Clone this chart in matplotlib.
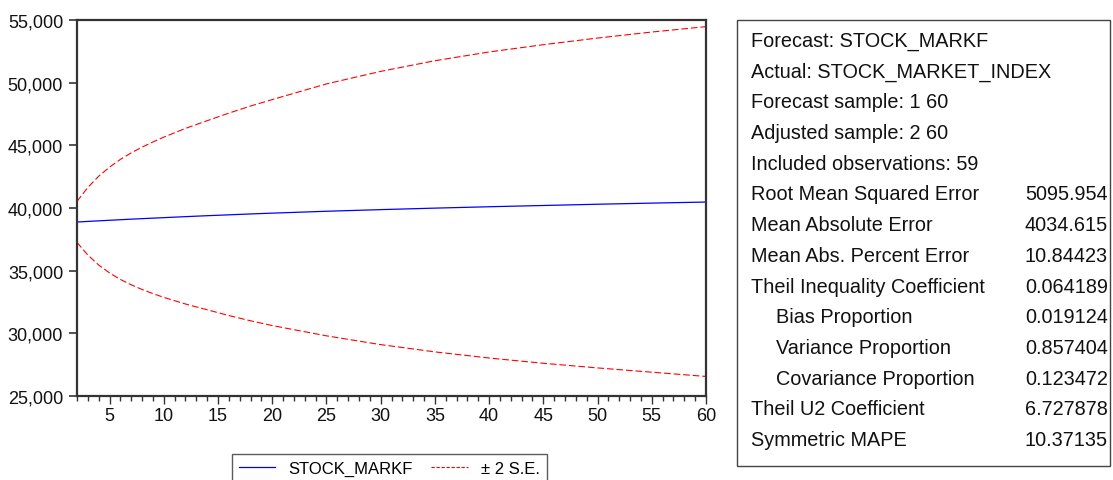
import matplotlib
matplotlib.use("Agg")
import matplotlib.pyplot as plt
from matplotlib.lines import Line2D
from matplotlib.patches import Rectangle

plt.rcParams['font.family'] = ['Liberation Sans', 'DejaVu Sans']

# ---- data ----
obs = [2, 3, 4, 5, 6, 7, 8, 9, 10, 12, 14, 16, 18, 20, 25, 30, 35, 40, 45, 50, 55, 60]
forecast = [38880, 38930, 38975, 39020, 39065, 39110, 39150, 39190, 39230, 39310,
            39385, 39455, 39525, 39590, 39740, 39870, 39990, 40100, 40200, 40300,
            40390, 40475]
upper = [40530, 41640, 42535, 43260, 43880, 44400, 44855, 45270, 45655, 46350,
         46965, 47570, 48135, 48650, 49900, 50900, 51750, 52450, 53030, 53560,
         54040, 54470]
lower = [37250, 36250, 35450, 34820, 34300, 33870, 33500, 33170, 32870, 32340,
         31880, 31420, 31000, 30620, 29800, 29100, 28520, 28030, 27610, 27240,
         26900, 26560]

y_ticks = [25000, 30000, 35000, 40000, 45000, 50000, 55000]
x_ticks = [5, 10, 15, 20, 25, 30, 35, 40, 45, 50, 55, 60]

stat_labels = ["Forecast: STOCK_MARKF", "Actual: STOCK_MARKET_INDEX",
               "Forecast sample: 1 60", "Adjusted sample: 2 60",
               "Included observations: 59", "Root Mean Squared Error",
               "Mean Absolute Error", "Mean Abs. Percent Error",
               "Theil Inequality Coefficient", "Bias Proportion",
               "Variance Proportion", "Covariance Proportion",
               "Theil U2 Coefficient", "Symmetric MAPE"]
stat_values = ["", "", "", "", "", "5095.954", "4034.615", "10.84423",
               "0.064189", "0.019124", "0.857404", "0.123472", "6.727878",
               "10.37135"]
stat_indent = [False] * 9 + [True, True, True] + [False, False]

legend_labels = ["STOCK_MARKF", "\u00b1 2 S.E."]

# ---- figure ----
W, H = 1113, 481
fig = plt.figure(figsize=(W / 100, H / 100), dpi=100)
ax = fig.add_axes([77 / W, 1 - 397 / H, 629 / W, 376 / H])

ax.plot(obs, forecast, color='#0000ff', lw=0.9)
ax.plot(obs, upper, color='#ff0000', lw=0.8, linestyle=(0, (6, 2.6)))
ax.plot(obs, lower, color='#ff0000', lw=0.8, linestyle=(0, (6, 2.6)))

ax.set_xlim(2, 60)
ax.set_ylim(25000, 55000)
ax.set_yticks(y_ticks)
ax.set_yticklabels([f"{v:,}" for v in y_ticks])
ax.set_xticks(x_ticks)
ax.set_xticks(range(2, 61), minor=True)
ax.set_xticklabels([str(v) for v in x_ticks])

for s in ax.spines.values():
    s.set_linewidth(1.6)
    s.set_color('#333333')

ax.tick_params(axis='y', which='major', direction='out', length=6, width=1.3,
               color='#444444', labelsize=13, pad=4, labelcolor='#111111')
ax.tick_params(axis='x', which='major', direction='out', length=6, width=1.0,
               color='#333333', labelsize=13, pad=2, labelcolor='#111111')
ax.tick_params(axis='x', which='minor', direction='out', length=3.5, width=1.0,
               color='#333333')

# legend
handles = [Line2D([], [], color='#0000ff', lw=0.9),
           Line2D([], [], color='#ff0000', lw=0.8, linestyle=(0, (3, 1.5)))]
leg = fig.legend(handles, legend_labels, loc='upper left',
                 bbox_to_anchor=(232 / W, 1 - 455 / H), ncol=2, frameon=True,
                 fancybox=False, fontsize=12, handlelength=2.2,
                 columnspacing=1.1, borderpad=0.4, handletextpad=0.8,
                 borderaxespad=0)
leg.get_frame().set_edgecolor('#333333')
leg.get_frame().set_linewidth(1.0)

# statistics box
fig.patches.append(Rectangle((737 / W, 1 - 467 / H), (1110 - 737) / W, (467 - 21) / H,
                             transform=fig.transFigure, fill=False,
                             edgecolor='#444444', lw=1.0))
for i, (lab, val, ind) in enumerate(zip(stat_labels, stat_values, stat_indent)):
    yc = 1 - (41.5 + 30.7 * i) / H
    xl = (776 if ind else 751) / W
    fig.text(xl, yc, lab, ha='left', va='center', fontsize=14.3, color='#111111')
    if val:
        fig.text(1108 / W, yc, val, ha='right', va='center', fontsize=14.3,
                 color='#111111')

fig.savefig('out.png', dpi=100)
